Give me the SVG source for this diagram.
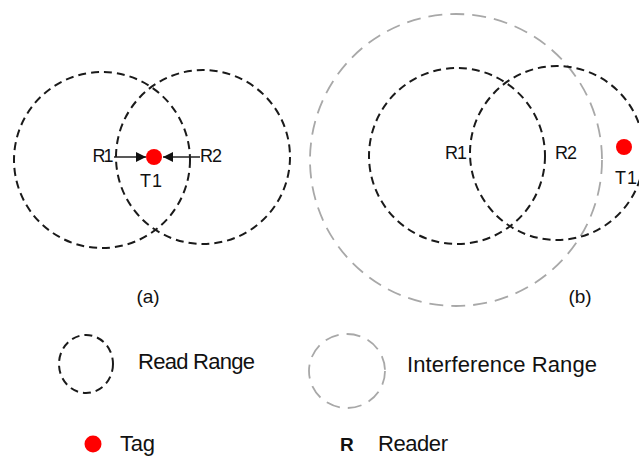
<svg xmlns="http://www.w3.org/2000/svg" width="639" height="456" viewBox="0 0 639 456">
<defs>
<style>
.rr{fill:none;stroke:#1a1a1a;stroke-width:2;stroke-dasharray:8 5}
.ir{fill:none;stroke:#a8a8a8;stroke-width:1.8;stroke-dasharray:14 8}
.tag{fill:#ff0000}
.lbl{font-family:"Liberation Sans",Arial,sans-serif;font-size:18px;fill:#111}
.leg{font-family:"Liberation Sans",Arial,sans-serif;font-size:22px;fill:#111}
.conn{stroke:#222;stroke-width:1.5;fill:none}
</style>
<marker id="ah" viewBox="0 0 10 10" refX="10" refY="5" markerWidth="10" markerHeight="10" markerUnits="userSpaceOnUse" orient="auto">
<path d="M0,0 L10,5 L0,10 z" fill="#111"/>
</marker>
</defs>
<rect width="639" height="456" fill="#fff"/>
<!-- (a) -->
<g id="a-read-r1"><circle class="rr" cx="102" cy="160" r="88"/></g>
<g id="a-read-r2"><circle class="rr" cx="203" cy="157" r="87"/></g>
<g id="a-tag"><circle class="tag" cx="154" cy="157" r="8"/><text class="lbl" x="151" y="187" text-anchor="middle" textLength="22">T1</text></g>
<g id="a-r1-label"><text class="lbl" x="103" y="162" text-anchor="middle" textLength="21">R1</text></g>
<g id="a-r2-label"><text class="lbl" x="211" y="162" text-anchor="middle" textLength="22">R2</text></g>
<g id="connectors">
<line class="conn" x1="114" y1="157" x2="146" y2="157" marker-end="url(#ah)"/>
<line class="conn" x1="200" y1="157" x2="163" y2="157" marker-end="url(#ah)"/>
</g>
<text class="lbl" x="148" y="303" text-anchor="middle" style="font-size:19px">(a)</text>
<!-- (b) -->
<g id="b-interf"><circle class="ir" cx="456" cy="160" r="146"/></g>
<g id="b-read-r1"><circle class="rr" cx="457" cy="156" r="88"/></g>
<g id="b-read-r2"><circle class="rr" cx="557" cy="153" r="87"/></g>
<g id="b-r1-label"><text class="lbl" x="456" y="159" text-anchor="middle" textLength="22">R1</text></g>
<g id="b-r2-label"><text class="lbl" x="566" y="159" text-anchor="middle" textLength="22">R2</text></g>
<g id="b-tag"><circle class="tag" cx="624" cy="147" r="8"/><text class="lbl" x="626" y="184" text-anchor="middle" textLength="22">T1</text></g>
<text class="lbl" x="580" y="303" text-anchor="middle" style="font-size:19px">(b)</text>
<!-- legend -->
<g id="legend-read"><ellipse class="rr" cx="86" cy="364" rx="27" ry="29"/><text class="leg" x="138" y="369" textLength="117">Read Range</text></g>
<g id="legend-interf"><ellipse class="ir" cx="347" cy="371" rx="38" ry="37"/><text class="leg" x="407" y="372" textLength="190">Interference Range</text></g>
<g id="legend-tag"><circle class="tag" cx="93" cy="444" r="8.5"/><text class="leg" x="120" y="451" textLength="35">Tag</text></g>
<g id="legend-reader"><text class="leg" x="340" y="451" style="font-weight:bold;font-size:19px">R</text><text class="leg" x="378" y="451" textLength="70">Reader</text></g>
</svg>
